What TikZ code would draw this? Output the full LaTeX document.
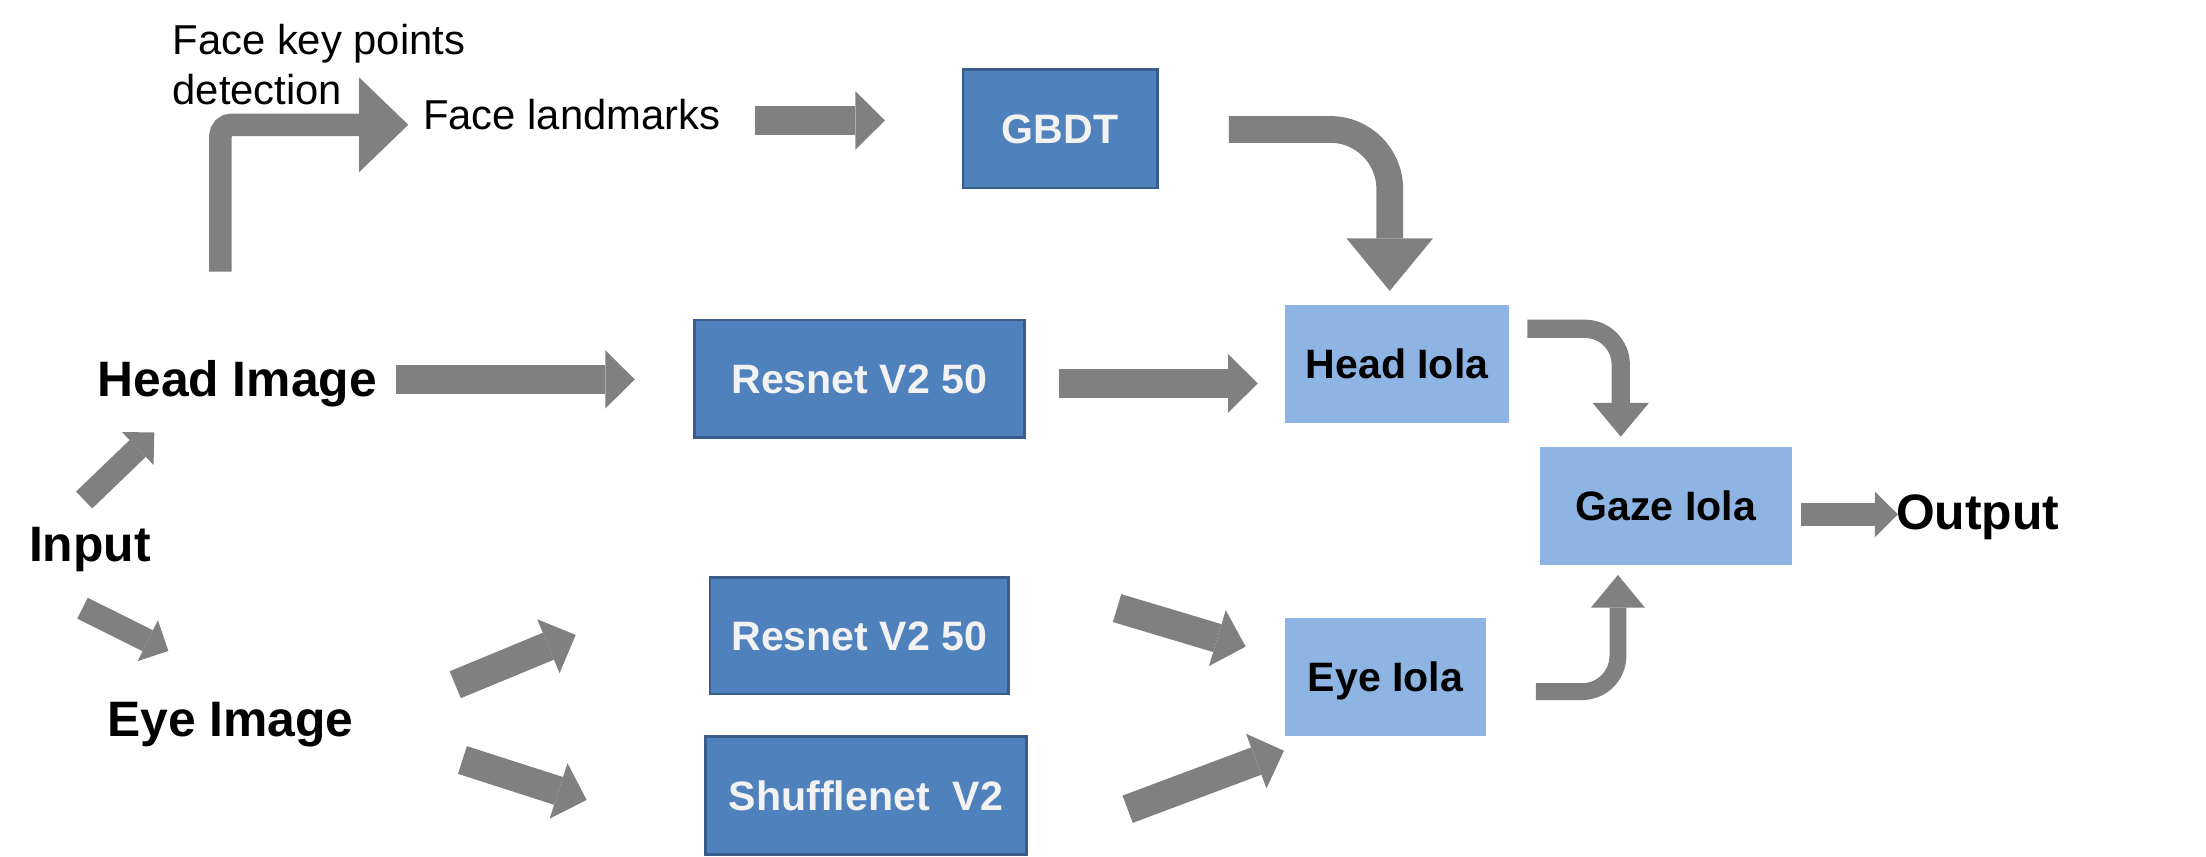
\documentclass[tikz,border=0pt]{standalone}
\usepackage{fontspec}
\setmainfont[Ligatures=CommonOff]{Liberation Sans}
\usetikzlibrary{arrows.meta}
\definecolor{arrgray}{HTML}{808080}
\definecolor{boxdark}{HTML}{4F81BD}
\definecolor{boxedge}{HTML}{385D8A}
\definecolor{boxlight}{HTML}{8EB4E3}
\definecolor{boxtext}{HTML}{F2F2F2}
\begin{document}
\begin{tikzpicture}[x=1pt,y=-1pt,
  boxfont/.style={font=\fontsize{29.2}{35}\selectfont\bfseries},
  darkbox/.style={boxfont, draw=boxedge, line width=2pt, fill=boxdark, text=boxtext,
    text height=20.9pt, text depth=0pt, inner sep=0pt},
  lightbox/.style={boxfont, fill=boxlight, text=black,
    text height=20.9pt, text depth=0pt, inner sep=0pt},
  biglabel/.style={font=\fontsize{35.4}{42}\selectfont\bfseries, inner sep=0pt, anchor=base west},
  smalllabel/.style={font=\fontsize{29.7}{35}\selectfont, inner sep=0pt, anchor=base west},
  blockarrow/.style={draw=arrgray, line width=20.7pt,
    -{Triangle[width=41.5pt,length=21pt,line width=0pt]}},
  thinarrow/.style={draw=arrgray, line width=16.6pt,
    -{Triangle[width=32.5pt,length=16.4pt,line width=0pt]}},
  bentarrow/.style={draw=arrgray, line width=16pt, rounded corners=8pt,
    -{Triangle[width=67.5pt,length=35pt,line width=0pt]}},
  bigcurve/.style={draw=arrgray, line width=19pt, rounded corners=42.3pt,
    -{Triangle[width=61.5pt,length=37.4pt,line width=0pt]}},
  smallcurve/.style={draw=arrgray, line width=13pt, rounded corners=25.5pt,
    -{Triangle[width=40pt,length=24pt,line width=0pt]}}
]
\useasboundingbox (0,0) rectangle (1568,609);

% boxes
\node[darkbox, minimum width=138pt, minimum height=84pt] (gbdt) at (753.5,91.6) {GBDT};
\node[darkbox, minimum width=234.4pt, minimum height=83.8pt] (resA) at (610.8,269.3) {Resnet V2 50};
\node[darkbox, minimum width=212.4pt, minimum height=82.9pt] (resB) at (610.8,451.85) {Resnet V2 50};
\node[darkbox, minimum width=227.8pt, minimum height=84pt] (shuf) at (615.5,565.6) {Shufflenet~~V2};
\node[lightbox, minimum width=159pt, minimum height=83.6pt] (headiola) at (993,258.6) {Head Iola};
\node[lightbox, minimum width=179.1pt, minimum height=83.6pt] (gazeiola) at (1184,359.5) {Gaze Iola};
\node[lightbox, minimum width=142.5pt, minimum height=83.6pt] (eyeiola) at (984.8,481.1) {Eye Iola};

% labels
\node[smalllabel] (kpa) at (122.5,38.6) {Face key points};
\node[smalllabel] (kpb) at (122.5,74) {detection};
\node[smalllabel] (landmarks) at (300.5,92) {Face landmarks};
\node[biglabel] (headimg) at (69,281.9) {Head Image};
\node[biglabel] (input) at (20.5,399.3) {Input};
\node[biglabel] (eyeimg) at (76,523.3) {Eye Image};
\node[biglabel] (output) at (1347.5,376.7) {Output};

% arrow end points
\coordinate (kpS) at (156.7,193.1);
\coordinate (kpC) at (156.7,88.7);
\coordinate (kpE) at (290.2,88.7);
\coordinate (lmS) at (536.4,85.6);
\coordinate (lmE) at (629,85.6);
\coordinate (gbS) at (873.5,92);
\coordinate (gbC) at (987.8,92);
\coordinate (gbE) at (987.8,206.8);
\coordinate (hiS) at (281.7,269.7);
\coordinate (hiE) at (451.2,269.7);
\coordinate (raS) at (752.9,272.5);
\coordinate (raE) at (894,272.5);
\coordinate (hlS) at (1085.6,233.7);
\coordinate (hlC) at (1152,233.7);
\coordinate (hlE) at (1152,310.4);
\coordinate (gzS) at (1280,365.6);
\coordinate (gzE) at (1349,365.6);
\coordinate (elS) at (1091.7,491.6);
\coordinate (elC) at (1150,491.6);
\coordinate (elE) at (1150,408.7);
\coordinate (inHS) at (59.8,355.4);
\coordinate (inHE) at (109.7,307.4);
\coordinate (inES) at (58.6,432.3);
\coordinate (inEE) at (119.7,462.7);
\coordinate (eyRS) at (323.6,486.7);
\coordinate (eyRE) at (409.2,451.3);
\coordinate (eySS) at (328.7,540.2);
\coordinate (eySE) at (417,568.6);
\coordinate (rbS) at (794,432.2);
\coordinate (rbE) at (885.4,459.6);
\coordinate (shS) at (801.5,575.2);
\coordinate (shE) at (912.6,533.6);

% connectors
\draw[bentarrow] (kpS) -- (kpC) -- (kpE);
\draw[blockarrow] (lmS) -- (lmE);
\draw[bigcurve] (gbS) -- (gbC) -- (gbE);
\draw[blockarrow] (hiS) -- (hiE);
\draw[blockarrow] (raS) -- (raE);
\draw[smallcurve] (hlS) -- (hlC) -- (hlE);
\draw[thinarrow] (gzS) -- (gzE);
\draw[smallcurve, line width=12pt, -{Triangle[width=38.4pt,length=23.2pt,line width=0pt]}] (elS) -- (elC) -- (elE);
\draw[thinarrow] (inHS) -- (inHE);
\draw[thinarrow] (inES) -- (inEE);
\draw[blockarrow] (eyRS) -- (eyRE);
\draw[blockarrow] (eySS) -- (eySE);
\draw[blockarrow] (rbS) -- (rbE);
\draw[blockarrow] (shS) -- (shE);
\end{tikzpicture}
\end{document}
